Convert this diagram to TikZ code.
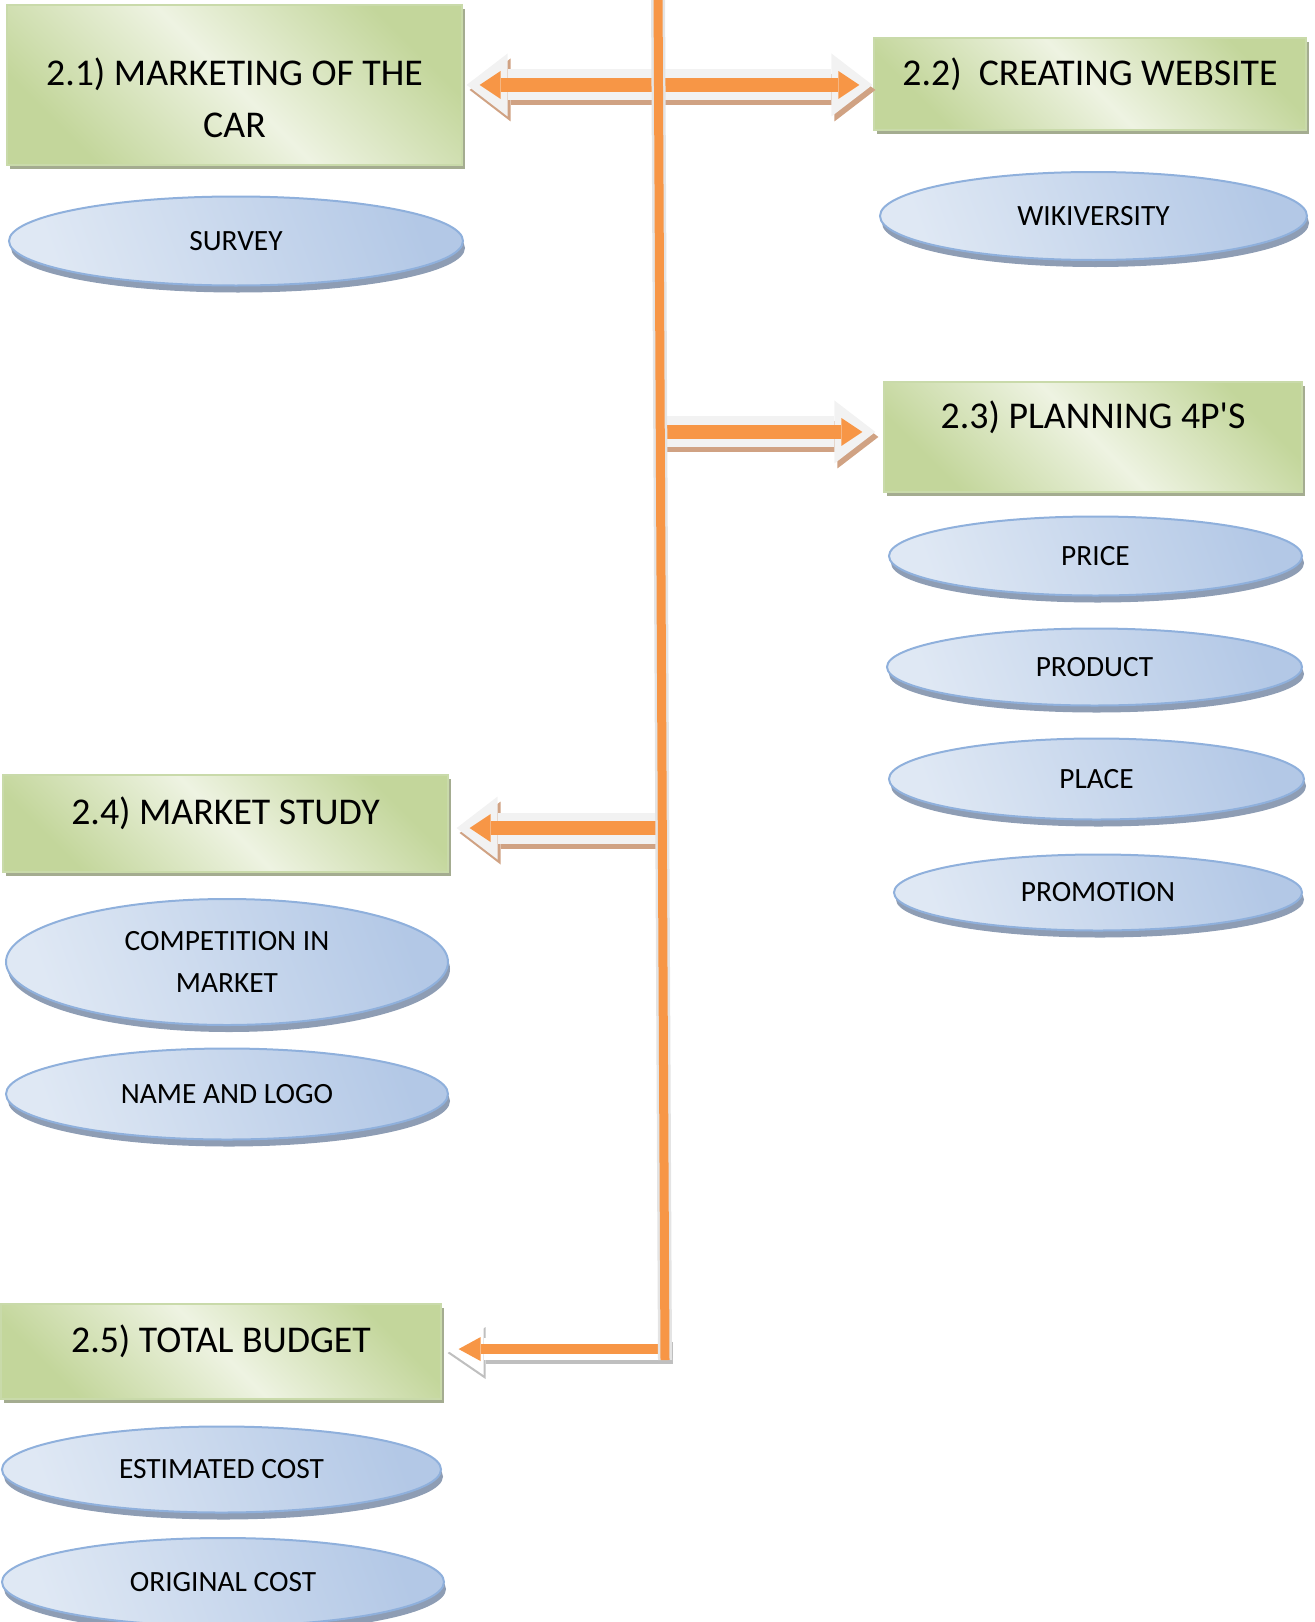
\documentclass[tikz,border=0pt]{standalone}
\usepackage{fontspec}
\setmainfont{Carlito}
\usetikzlibrary{shapes.geometric, arrows.meta, shadows, calc}

\definecolor{boxdark}{HTML}{C3D69B}
\definecolor{boxlight}{HTML}{EEF3E2}
\definecolor{boxedge}{HTML}{C9DAAA}
\definecolor{boxshade}{HTML}{A4AC90}
\definecolor{elldark}{HTML}{B3C8E6}
\definecolor{elllight}{HTML}{DFE8F4}
\definecolor{elledge}{HTML}{8FB0DC}
\definecolor{ellshade}{HTML}{8E9DB4}
\definecolor{arrorange}{HTML}{F79646}
\definecolor{arrgrey}{HTML}{F2F2F2}
\definecolor{arrtan}{HTML}{D0A283}
\definecolor{trunkrim}{HTML}{E4E4E4}

\begin{document}
\begin{tikzpicture}[x=0.5pt, y=-0.5pt,
  taskbox/.style={draw=boxedge, line width=0.6pt, top color=boxdark, bottom color=boxdark, middle color=boxlight, shading angle=-45,
    drop shadow={shadow xshift=1.5pt, shadow yshift=-2pt, fill=boxshade, opacity=1},
    font=\fontsize{18.9}{26}\selectfont, align=center, inner sep=0pt},
  subtask/.style={ellipse, draw=elledge, line width=1pt, top color=elldark, bottom color=elllight, shading angle=-70,
    drop shadow={shadow xshift=1pt, shadow yshift=-3.5pt, fill=ellshade, opacity=1},
    font=\fontsize{14.7}{20.75}\selectfont, align=center, inner sep=0pt},
  arrshade/.style={line width=15.5pt, draw=arrtan, -{Triangle[width=31.5pt,length=20.5pt,line width=0pt]}, shorten >=#1,
    transform canvas={xshift=1.5pt, yshift=-2.5pt}},
  arrrim/.style={line width=15.5pt, draw=arrgrey, -{Triangle[width=31.5pt,length=20.5pt,line width=0pt]}, shorten >=#1},
  arrcore/.style={line width=7pt, draw=arrorange, -{Triangle[width=14pt,length=10.5pt,line width=0pt]}, shorten >=#1},
  trunk/.style={line width=4.5pt, draw=arrorange},
  trunkhalo/.style={line width=7pt, draw=trunkrim}
]
  \useasboundingbox (0,0) rectangle (1314,1622);

  % main tasks
  \node[taskbox, minimum width=227.5pt, minimum height=80pt, text height=66pt, text depth=14pt] (m21) at (234.5,85)
    {2.1) MARKETING OF THE\\CAR};
  \node[taskbox, minimum width=216pt, minimum height=46pt, text height=23.75pt, text depth=22.25pt] (m22) at (1090,84)
    {2.2)\ \ CREATING WEBSITE};
  \node[taskbox, minimum width=209pt, minimum height=55pt, text height=23pt, text depth=32pt] (m23) at (1093,437)
    {2.3) PLANNING 4P\textquotesingle S};
  \node[taskbox, minimum width=222.5pt, minimum height=48.5pt, text height=24.5pt, text depth=24pt] (m24) at (225.5,823.5)
    {2.4) MARKET STUDY};
  \node[taskbox, minimum width=220pt, minimum height=47.5pt, text height=24pt, text depth=23.5pt] (m25) at (221,1351.5)
    {2.5) TOTAL BUDGET};

  % sub tasks
  \node[subtask, minimum width=227pt, minimum height=44.5pt] (survey) at (236,241) {SURVEY};
  \node[subtask, minimum width=213.5pt, minimum height=44pt] (wiki) at (1093.5,216) {WIKIVERSITY};
  \node[subtask, minimum width=206.5pt, minimum height=39.5pt] (price) at (1095.5,556) {PRICE};
  \node[subtask, minimum width=207.5pt, minimum height=38.5pt] (product) at (1094.5,667) {PRODUCT};
  \node[subtask, minimum width=207.5pt, minimum height=40.5pt] (place) at (1096.5,779) {PLACE};
  \node[subtask, minimum width=204pt, minimum height=38pt] (promo) at (1098,892.5) {PROMOTION};
  \node[subtask, minimum width=221pt, minimum height=63pt] (compet) at (227,962) {COMPETITION IN\\MARKET};
  \node[subtask, minimum width=221pt, minimum height=45.5pt] (logo) at (227,1094) {NAME AND LOGO};
  \node[subtask, minimum width=219.5pt, minimum height=43pt] (estcost) at (221.5,1469.5) {ESTIMATED COST};
  \node[subtask, minimum width=221pt, minimum height=44pt] (orgcost) at (223,1582) {ORIGINAL COST};

  % trunk and junctions
  \coordinate (ttop) at (658,-10);
  \coordinate (tbot) at (665,1360);
  \coordinate (j21) at ($(ttop)!0.0693!(tbot)$);
  \coordinate (j23) at ($(ttop)!0.3226!(tbot)$);
  \coordinate (j24) at ($(ttop)!0.6117!(tbot)$);
  \coordinate (j25) at ($(ttop)!0.9920!(tbot)$);

  \draw[arrshade=2pt] (j21) -- (j21 -| m21.east);
  \draw[arrshade=0.5pt] (j21) -- (j21 -| m22.west);
  \draw[arrshade=4pt] (j23) -- (j23 -| m23.west);
  \draw[arrshade=4pt] (j24) -- (j24 -| m24.east);
  \draw[arrrim=2pt] (j21) -- (j21 -| m21.east);
  \draw[arrrim=0.5pt] (j21) -- (j21 -| m22.west);
  \draw[arrrim=4pt] (j23) -- (j23 -| m23.west);
  \draw[arrrim=4pt] (j24) -- (j24 -| m24.east);
  \draw[arrcore=8.5pt] (j21) -- (j21 -| m21.east);
  \draw[arrcore=7pt] (j21) -- (j21 -| m22.west);
  \draw[arrcore=10.5pt] (j23) -- (j23 -| m23.west);
  \draw[arrcore=10.5pt] (j24) -- (j24 -| m24.east);

  % budget arrow, white rim
  \begin{scope}[
    arrshade/.style={line width=11pt, draw=black!25, -{Triangle[width=26pt,length=19pt,line width=0pt]}, shorten >=#1,
      transform canvas={xshift=1pt, yshift=-2pt}},
    arrrim/.style={line width=11pt, draw=white, -{Triangle[width=26pt,length=19pt,line width=0pt]}, shorten >=#1},
    arrcore/.style={line width=5pt, draw=arrorange, -{Triangle[width=12pt,length=11pt,line width=0pt]}, shorten >=#1}]
    \draw[arrshade=2pt] ([xshift=3pt]j25) -- (j25 -| m25.east);
    \draw[arrrim=2pt] ([xshift=3pt]j25) -- (j25 -| m25.east);
    \draw[arrcore=8.5pt] (j25) -- (j25 -| m25.east);
  \end{scope}

  \draw[trunkhalo] (ttop) -- (tbot);
  \draw[trunk] (ttop) -- (tbot);
\end{tikzpicture}
\end{document}
